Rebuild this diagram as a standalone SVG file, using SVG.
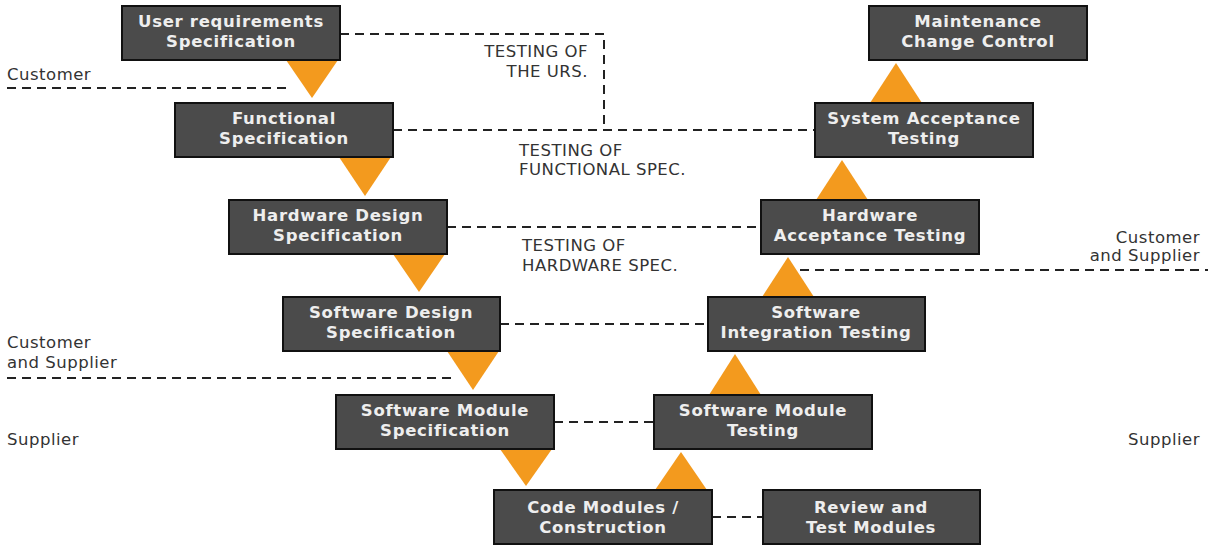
<svg xmlns="http://www.w3.org/2000/svg" width="1208" height="548" viewBox="0 0 1208 548">
<style>
.box{fill:#4b4b4b;stroke:#111;stroke-width:2}
.bt{font-family:"DejaVu Sans",Verdana,sans-serif;font-weight:bold;font-size:16.5px;letter-spacing:0.7px;fill:#eeeeee;text-anchor:middle}
.lbl{font-family:"DejaVu Sans",Verdana,sans-serif;font-size:16.5px;letter-spacing:0.5px;fill:#333}
.dash{fill:none;stroke:#222;stroke-width:2;stroke-dasharray:9 6}
.tri{fill:#f39a1e}
</style>
<rect width="1208" height="548" fill="#fff"/>
<g id="connectors">
<polyline class="dash" points="340,34 604,34 604,129"/>
<line class="dash" x1="393" y1="130" x2="815" y2="130"/>
<line class="dash" x1="447" y1="227" x2="761" y2="227"/>
<line class="dash" x1="500" y1="324" x2="708" y2="324"/>
<line class="dash" x1="554" y1="422" x2="654" y2="422"/>
<line class="dash" x1="712" y1="517" x2="763" y2="517"/>
<line class="dash" x1="7" y1="88" x2="290" y2="88"/>
<line class="dash" x1="7" y1="378" x2="455" y2="378"/>
<line class="dash" x1="800" y1="270" x2="1208" y2="270"/>
<polygon class="tri" points="286,60 338,60 312,98"/>
<polygon class="tri" points="339,157 391,157 365,196"/>
<polygon class="tri" points="393,254 445,254 419,292"/>
<polygon class="tri" points="447,351 499,351 473,390"/>
<polygon class="tri" points="500,449 552,449 526,486"/>
<polygon class="tri" points="870,103 922,103 896,63"/>
<polygon class="tri" points="816,200 868,200 842,160"/>
<polygon class="tri" points="762,297 814,297 788,257"/>
<polygon class="tri" points="709,395 761,395 735,354"/>
<polygon class="tri" points="655,490 707,490 681,452"/>
</g>
<g id="labels">
<text class="lbl" x="588" y="57" text-anchor="end">TESTING OF</text>
<text class="lbl" x="588" y="77" text-anchor="end">THE URS.</text>
<text class="lbl" x="519" y="156">TESTING OF</text>
<text class="lbl" x="519" y="175">FUNCTIONAL SPEC.</text>
<text class="lbl" x="522" y="251">TESTING OF</text>
<text class="lbl" x="522" y="271">HARDWARE SPEC.</text>
<text class="lbl" x="7" y="80">Customer</text>
<text class="lbl" x="7" y="348">Customer</text>
<text class="lbl" x="7" y="368">and Supplier</text>
<text class="lbl" x="7" y="445">Supplier</text>
<text class="lbl" x="1200" y="243" text-anchor="end">Customer</text>
<text class="lbl" x="1200" y="261" text-anchor="end">and Supplier</text>
<text class="lbl" x="1200" y="445" text-anchor="end">Supplier</text>
</g>
<g id="urs"><rect class="box" x="122" y="6" width="218" height="54"/><text class="bt" x="231" y="27">User requirements</text><text class="bt" x="231" y="47">Specification</text></g>
<g id="func"><rect class="box" x="175" y="103" width="218" height="54"/><text class="bt" x="284" y="124">Functional</text><text class="bt" x="284" y="144">Specification</text></g>
<g id="hwds"><rect class="box" x="229" y="200" width="218" height="54"/><text class="bt" x="338" y="221">Hardware Design</text><text class="bt" x="338" y="241">Specification</text></g>
<g id="swds"><rect class="box" x="283" y="297" width="217" height="54"/><text class="bt" x="391" y="318">Software Design</text><text class="bt" x="391" y="338">Specification</text></g>
<g id="swms"><rect class="box" x="336" y="395" width="218" height="54"/><text class="bt" x="445" y="416">Software Module</text><text class="bt" x="445" y="436">Specification</text></g>
<g id="code"><rect class="box" x="494" y="490" width="218" height="54"/><text class="bt" x="603" y="513">Code Modules /</text><text class="bt" x="603" y="533">Construction</text></g>
<g id="review"><rect class="box" x="763" y="490" width="217" height="54"/><text class="bt" x="871" y="513">Review and</text><text class="bt" x="871" y="533">Test Modules</text></g>
<g id="swmt"><rect class="box" x="654" y="395" width="218" height="54"/><text class="bt" x="763" y="416">Software Module</text><text class="bt" x="763" y="436">Testing</text></g>
<g id="swit"><rect class="box" x="708" y="297" width="217" height="54"/><text class="bt" x="816" y="318">Software</text><text class="bt" x="816" y="338">Integration Testing</text></g>
<g id="hwat"><rect class="box" x="761" y="200" width="218" height="54"/><text class="bt" x="870" y="221">Hardware</text><text class="bt" x="870" y="241">Acceptance Testing</text></g>
<g id="sat"><rect class="box" x="815" y="103" width="218" height="54"/><text class="bt" x="924" y="124">System Acceptance</text><text class="bt" x="924" y="144">Testing</text></g>
<g id="maint"><rect class="box" x="869" y="6" width="218" height="54"/><text class="bt" x="978" y="27">Maintenance</text><text class="bt" x="978" y="47">Change Control</text></g>
</svg>
